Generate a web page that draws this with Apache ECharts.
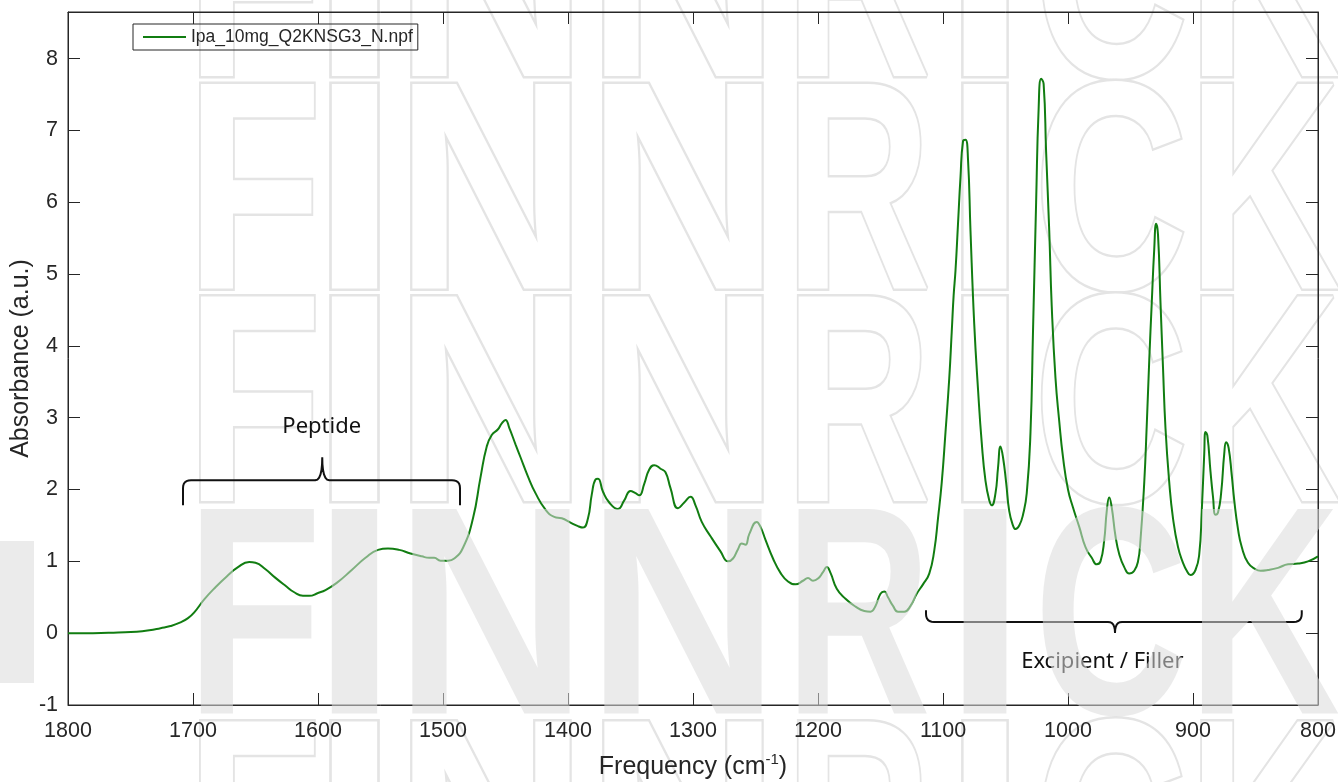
<!DOCTYPE html>
<html>
<head>
<meta charset="utf-8">
<script src="https://cdn.jsdelivr.net/npm/echarts@6/dist/echarts.min.js"></script>
<style>
html, body { margin: 0; padding: 0; background: #fff; }
#chart { width: 1338px; height: 782px; }
</style>
</head>
<body>
<div id="chart"></div>
<script>
// spectrum: wavenumber (cm-1) and absorbance (a.u.)
var wavenumbers = [
  1800, 1780, 1760, 1745, 1735, 1726, 1718, 1710, 1704, 1699, 1691, 1682, 1673, 1664, 1655, 1650,
  1642, 1634, 1626, 1619, 1612, 1607, 1600, 1594, 1585, 1573, 1562, 1552, 1544, 1535, 1526, 1517,
  1511, 1507, 1502, 1496, 1491, 1484, 1476, 1470, 1465, 1461, 1456, 1453, 1450, 1447, 1442, 1438,
  1432, 1426, 1418, 1411, 1405, 1398, 1392, 1388, 1384, 1381, 1378, 1376, 1372, 1367, 1360, 1355,
  1350, 1346, 1343, 1339, 1335, 1331, 1326, 1322, 1318, 1312, 1307, 1302, 1298, 1293, 1286, 1278,
  1272, 1268, 1264, 1261, 1258, 1255, 1249, 1246, 1242, 1236, 1230, 1224, 1218, 1212, 1208, 1204,
  1200, 1196, 1193, 1190, 1185, 1178, 1170, 1163, 1158, 1154, 1150, 1147, 1144, 1140, 1136, 1131,
  1126, 1121, 1116, 1111, 1107, 1104, 1101, 1098, 1095, 1093, 1091.5, 1090, 1088, 1086, 1084, 1082,
  1080, 1078, 1075, 1072, 1069, 1066, 1063, 1061, 1058, 1056, 1054, 1052, 1049.5, 1047, 1044, 1042,
  1039, 1036, 1033, 1030, 1028, 1025.5, 1023.5, 1021.5, 1019.5, 1017.5, 1015, 1013, 1010, 1007, 1004, 1000,
  996, 991, 986, 981, 977, 974, 971, 969, 967, 965, 962, 959, 955, 951, 947, 944,
  942, 939, 937, 935, 933, 931, 929.5, 928, 926, 924, 922, 919, 916, 912, 908, 905,
  902, 898, 895, 893, 891, 890, 888.5, 886, 884, 882, 880, 877.5, 875, 873.5, 871.5, 869,
  867, 864, 861, 856, 850, 846, 840, 832, 824, 816, 808, 800
];
var absorbance = [
  0.00, 0.00, 0.01, 0.02, 0.04, 0.07, 0.10, 0.15, 0.21, 0.29, 0.47, 0.64, 0.79, 0.92, 0.99, 0.98,
  0.89, 0.77, 0.66, 0.57, 0.52, 0.52, 0.56, 0.60, 0.70, 0.88, 1.05, 1.16, 1.18, 1.16, 1.11, 1.07,
  1.05, 1.05, 1.01, 1.01, 1.04, 1.19, 1.60, 2.17, 2.60, 2.76, 2.84, 2.92, 2.97, 2.86, 2.63, 2.45,
  2.18, 1.95, 1.72, 1.62, 1.60, 1.54, 1.49, 1.47, 1.60, 1.93, 2.14, 2.15, 1.97, 1.82, 1.73, 1.85,
  1.98, 1.95, 1.92, 2.08, 2.28, 2.34, 2.29, 2.24, 2.02, 1.74, 1.82, 1.90, 1.78, 1.55, 1.35, 1.14,
  1.00, 1.04, 1.17, 1.25, 1.23, 1.38, 1.55, 1.48, 1.30, 1.04, 0.84, 0.72, 0.68, 0.73, 0.77, 0.73,
  0.76, 0.85, 0.92, 0.84, 0.62, 0.48, 0.37, 0.31, 0.30, 0.38, 0.55, 0.58, 0.50, 0.38, 0.30, 0.30,
  0.38, 0.55, 0.68, 0.83, 1.15, 1.60, 2.10, 2.80, 3.55, 4.20, 4.70, 5.05, 5.70, 6.35, 6.85, 6.87,
  6.60, 5.60, 4.30, 3.40, 2.65, 2.12, 1.85, 1.78, 1.95, 2.30, 2.60, 2.45, 2.10, 1.70, 1.50, 1.45,
  1.50, 1.65, 1.95, 2.80, 4.20, 6.00, 7.30, 7.72, 7.65, 6.70, 5.60, 4.55, 3.55, 2.95, 2.45, 2.00,
  1.75, 1.48, 1.20, 1.05, 0.96, 1.00, 1.30, 1.70, 1.89, 1.75, 1.35, 1.10, 0.92, 0.83, 0.87, 1.00,
  1.30, 2.10, 2.90, 3.80, 4.60, 5.35, 5.70, 5.55, 4.60, 3.70, 2.85, 2.10, 1.60, 1.20, 0.98, 0.87,
  0.81, 0.88, 1.10, 1.70, 2.50, 2.80, 2.75, 2.25, 1.90, 1.65, 1.68, 1.95, 2.50, 2.66, 2.58, 2.20,
  1.85, 1.45, 1.20, 0.98, 0.89, 0.87, 0.88, 0.91, 0.96, 0.97, 1.00, 1.07
];
var seriesName = 'Ipa_10mg_Q2KNSG3_N.npf';
var xRange = [800, 1800];
var yRange = [-1, 8.65];

// braces: [left, right, middle] in cm-1 and [line, ends, tip] in a.u.
var peptideSpan = [1708, 1486.4, 1596.6];
var peptideLevels = [2.13, 1.78, 2.45];
var excipientSpan = [1113.6, 813, 962.4];
var excipientLevels = [0.157, 0.32, 0.004];
var bandLabels = ['Peptide', 'Excipient / Filler'];
var bandLabelAt = [[1597, 2.87], [972.5, -0.40]];

// watermark letters (background decoration)
var wmLetters = ['F', 'I', 'N', 'N', 'R', 'I', 'C', 'K'];
var wmCenters = [254, 354.5, 491, 683, 858, 985, 1111, 1264];
var wmScales = [0.75, 1.06, 0.9, 0.9, 0.68, 1.0, 0.72, 0.71];
var wmRowTops = [-131, 81.5, 294, 506.5, 719];

var ink = '#262626';
var axisFont = '"Liberation Sans", Arial, Helvetica, sans-serif';

var chart = echarts.init(document.getElementById('chart'));

var points = wavenumbers.map(function (w, i) { return [w, absorbance[i]]; });

var baseX = {
  type: 'value', min: xRange[0], max: xRange[1], interval: 100, inverse: true,
  splitLine: { show: false },
  axisLine: { show: true, onZero: false, lineStyle: { color: ink, width: 1 } },
  axisTick: { show: true, inside: true, length: 12, lineStyle: { color: ink, width: 1 } }
};
var baseY = {
  type: 'value', min: yRange[0], max: yRange[1], interval: 1,
  splitLine: { show: false },
  axisLine: { show: true, onZero: false, lineStyle: { color: ink, width: 1 } },
  axisTick: { show: true, inside: true, length: 12, lineStyle: { color: ink, width: 1 } }
};

chart.setOption({
  animation: false,
  backgroundColor: '#fff',
  grid: { left: 68, right: 20, top: 12, bottom: 77, outerBoundsMode: 'none',
          show: true, borderColor: ink, borderWidth: 1, backgroundColor: 'transparent' },
  legend: {
    left: 133, top: 24, padding: [4, 5, 4, 10],
    borderColor: ink, borderWidth: 1, borderRadius: 0, backgroundColor: 'transparent',
    itemWidth: 43, itemHeight: 2, icon: 'rect',
    textStyle: { fontSize: 17.5, color: ink, fontFamily: axisFont },
    data: [seriesName]
  },
  xAxis: [
    Object.assign({}, baseX, {
      position: 'bottom',
      axisLabel: { margin: 15, fontSize: 21.5, color: ink, fontFamily: axisFont, showMinLabel: true, showMaxLabel: true,
                   formatter: function (v) { return String(v); } },
      name: '{a|Frequency (cm}{b|-1}{a|)}',
      nameLocation: 'middle', nameGap: 47,
      nameTextStyle: {
        rich: {
          a: { fontSize: 25, color: ink, fontFamily: axisFont, lineHeight: 30 },
          b: { fontSize: 15, color: ink, fontFamily: axisFont, lineHeight: 2, verticalAlign: 'top' }
        }
      }
    }),
    Object.assign({}, baseX, { position: 'top', axisLabel: { show: false } })
  ],
  yAxis: [
    Object.assign({}, baseY, {
      position: 'left',
      axisLabel: {
        margin: 10, fontSize: 21.5, color: ink, fontFamily: axisFont,
        formatter: function (v) { return Math.abs(v - Math.round(v)) < 1e-9 ? String(Math.round(v)) : ''; }
      },
      name: 'Absorbance (a.u.)', nameLocation: 'middle', nameGap: 34, nameMoveOverlap: false,
      nameTextStyle: { fontSize: 25, color: ink, fontFamily: axisFont }
    }),
    Object.assign({}, baseY, { position: 'right', axisLabel: { show: false } })
  ],
  series: [{
    name: seriesName,
    type: 'line',
    xAxisIndex: 0, yAxisIndex: 0,
    data: points,
    symbol: 'none', showSymbol: false,
    smooth: 0.5,
    lineStyle: { color: '#117d11', width: 2 },
    itemStyle: { color: '#117d11' },
    z: 3
  }]
});

function px(p) { return chart.convertToPixel({ seriesIndex: 0 }, p); }

function quad(p0, c, p1, n) {
  var out = [];
  for (var i = 1; i <= n; i++) {
    var t = i / n, u = 1 - t;
    out.push([u * u * p0[0] + 2 * u * t * c[0] + t * t * p1[0], u * u * p0[1] + 2 * u * t * c[1] + t * t * p1[1]]);
  }
  return out;
}

// curly brace drawn as a polyline through pixel points
function bracePoints(span, levels) {
  var xl = px([span[0], levels[0]])[0], xr = px([span[1], levels[0]])[0], xm = px([span[2], levels[0]])[0];
  var yl = px([span[0], levels[0]])[1], ye = px([span[0], levels[1]])[1], yt = px([span[0], levels[2]])[1];
  var d = ye > yl ? 1 : -1, r = 8, w = 7;
  var pts = [[xl, ye], [xl, yl + d * r]];
  pts = pts.concat(quad([xl, yl + d * r], [xl, yl], [xl + r, yl], 6));
  pts.push([xm - w, yl]);
  pts = pts.concat(quad([xm - w, yl], [xm, yl], [xm, yt], 6));
  pts = pts.concat(quad([xm, yt], [xm, yl], [xm + w, yl], 6));
  pts.push([xr - r, yl]);
  pts = pts.concat(quad([xr - r, yl], [xr, yl], [xr, yl + d * r], 6));
  pts.push([xr, ye]);
  return pts;
}

var elements = [];
var wmFont = 'bold 297px "Liberation Sans", Arial, sans-serif';

// outlined watermark rows, behind the plot
wmRowTops.forEach(function (top, row) {
  if (row === 3) return;
  wmLetters.forEach(function (ch, i) {
    elements.push({
      type: 'text', x: wmCenters[i], y: top + 125, scaleX: wmScales[i], silent: true, z: -20 + row,
      style: { text: ch, font: wmFont, textAlign: 'center', textVerticalAlign: 'middle',
               fill: '#ffffff', stroke: '#e4e4e4', lineWidth: 5 }
    });
  });
});

[[peptideSpan, peptideLevels], [excipientSpan, excipientLevels]].forEach(function (b) {
  elements.push({
    type: 'polyline', shape: { points: bracePoints(b[0], b[1]) }, silent: true, z: 10,
    style: { fill: null, stroke: '#111', lineWidth: 2 }
  });
});

bandLabels.forEach(function (t, i) {
  var p = px(bandLabelAt[i]);
  elements.push({
    type: 'text', x: p[0], y: p[1], silent: true, z: 10,
    style: { text: t, font: '22px "Noto Sans", sans-serif', textAlign: 'center', textVerticalAlign: 'middle', fill: '#111' }
  });
});

// solid watermark row, washed over the plot
wmLetters.forEach(function (ch, i) {
  elements.push({
    type: 'text', x: wmCenters[i], y: wmRowTops[3] + 125, scaleX: wmScales[i], silent: true, z: 100,
    style: { text: ch, font: wmFont, textAlign: 'center', textVerticalAlign: 'middle',
             fill: 'rgba(219,219,219,0.55)' }
  });
});
elements.push({
  type: 'rect', shape: { x: 0, y: 541, width: 34, height: 142 }, silent: true, z: 100,
  style: { fill: 'rgba(219,219,219,0.55)' }
});

chart.setOption({ graphic: { elements: elements } });
</script>
</body>
</html>
